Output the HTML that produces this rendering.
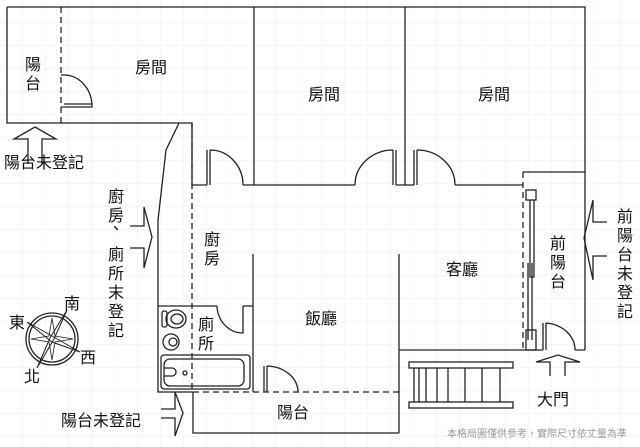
<!DOCTYPE html>
<html><head><meta charset="utf-8"><style>
html,body{margin:0;padding:0;background:#fff}
svg{display:block}
text{font-family:"Liberation Sans","Noto Sans CJK TC",sans-serif;fill:#111}
</style></head><body>
<svg width="640" height="447" viewBox="0 0 640 447" xmlns="http://www.w3.org/2000/svg">
<defs><pattern id="g" width="23" height="23" patternUnits="userSpaceOnUse"><path d="M23 0V23H0" fill="none" stroke="#ececec" stroke-width="1"/></pattern></defs>
<rect width="640" height="447" fill="url(#g)"/>
<g fill="none" stroke="#222" stroke-width="1.3">
<path d="M7 7H585V350"/>
<path d="M7 7V123H192V185"/>
<line x1="61" y1="7" x2="61" y2="123" stroke-dasharray="6,4"/>
<line x1="254" y1="7" x2="254" y2="185"/>
<line x1="405" y1="7" x2="405" y2="185"/>
<path d="M179 123L166 150L158 220V392H193"/>
<line x1="192" y1="123" x2="192" y2="392" stroke-dasharray="6,4"/>
<path d="M192 185H207M243 185H355M396 185H414M455 185H523"/>
<path d="M207 185V150M210 185V150M210 150A33 35 0 0 1 243 185"/>
<path d="M396 185V150M393 185V150M393 150A38 35 0 0 0 355 185"/>
<path d="M414 185V150M417 185V150M417 150A38 35 0 0 1 455 185"/>
<path d="M523 172H585"/>
<line x1="523" y1="172" x2="523" y2="350" stroke-dasharray="6,4"/>
<rect x="526" y="190" width="10" height="10"/>
<path d="M530 200V277H534V200M528 263V340M532 263V340"/>
<rect x="526" y="330" width="10" height="20"/>
<path d="M543 350V323M546 350V323M546 323A32 27 0 0 1 575 350"/>
<path d="M399 350H543M575 350H585"/>
<line x1="253" y1="254" x2="253" y2="392"/>
<line x1="399" y1="254" x2="399" y2="433"/>
<path d="M193 392V433H399"/>
<line x1="193" y1="392" x2="399" y2="392" stroke-dasharray="6,4"/>
<path d="M264 392V366M267 392V366M267 366A32 26 0 0 1 298 392"/>
<path d="M158 306H217M243 306H253"/>
<path d="M217 306A26 28 0 0 0 243 333V306"/>
<rect x="161" y="355" width="89" height="34" rx="3"/>
<rect x="164" y="359" width="80" height="27" rx="6"/>
<circle cx="185" cy="373" r="2"/>
<path d="M164 368H172A4 4 0 0 1 172 376H164"/>
<ellipse cx="176" cy="319" rx="10" ry="9"/><ellipse cx="177" cy="319" rx="6" ry="5"/>
<rect x="162" y="311" width="5" height="16" rx="2"/>
<circle cx="171" cy="342" r="8"/><circle cx="173" cy="342" r="4"/>
<path d="M61 75H64M61 107H92V104H64M64 75A28 32 0 0 1 92 104"/>
<rect x="409" y="362" width="104" height="6"/>
<rect x="409" y="402" width="104" height="6"/>
<path d="M414 368V402M419 368V402M426 368V402M437 368V402M448 368V402M465 368V402M482 368V402M500 368V402"/>
<path d="M28 164V139H14L35 127L56 139H42V164"/>
<path d="M130 226H144V207L152 237L144 268V248H130"/>
<path d="M161 409H175V392L183 413L175 436V418H161"/>
<path d="M607 222H593V200L584 238L593 280V256H607"/>
<path d="M550 376V362H536L558 355L580 362H565V376"/>
<circle cx="52" cy="339" r="26"/><circle cx="52" cy="339" r="23"/>
<path d="M27 322L52 336L80 352L52 342Z M67 310L54 339L37 368L50 338Z" stroke-width="1"/>
<path d="M52 318L55 336L73 339L55 342L52 360L49 342L31 339L49 336Z" stroke-width="0.8"/>
</g>
<g font-size="16">
<text x="25" y="70">陽</text><text x="25" y="89">台</text>
<text x="135" y="73">房間</text>
<text x="308" y="100">房間</text>
<text x="478" y="100">房間</text>
<text x="4" y="168">陽台未登記</text>
<text x="204" y="245">廚</text><text x="204" y="264">房</text>
<text x="198" y="330">廁</text><text x="198" y="349">所</text>
<text x="305" y="324">飯廳</text>
<text x="446" y="275">客廳</text>
<text x="550" y="249">前</text><text x="550" y="268">陽</text><text x="550" y="287">台</text>
<text x="277" y="418">陽台</text>
<text x="537" y="405">大門</text>
<text x="61" y="426">陽台未登記</text>
<text x="108" y="202">廚</text><text x="108" y="221">房</text><text x="108" y="234">、</text>
<text x="108" y="260">廁</text><text x="108" y="279">所</text><text x="108" y="298">末</text><text x="108" y="317">登</text><text x="108" y="336">記</text>
<text x="617" y="222">前</text><text x="617" y="241">陽</text><text x="617" y="260">台</text><text x="617" y="279">未</text><text x="617" y="298">登</text><text x="617" y="317">記</text>
<text x="9" y="328">東</text><text x="64" y="309">南</text><text x="80" y="363">西</text><text x="24" y="382">北</text>
</g>
<text x="447" y="437" font-size="10" style="fill:#999">本格局圖僅供參考，實際尺寸依丈量為準</text>
</svg>
</body></html>
